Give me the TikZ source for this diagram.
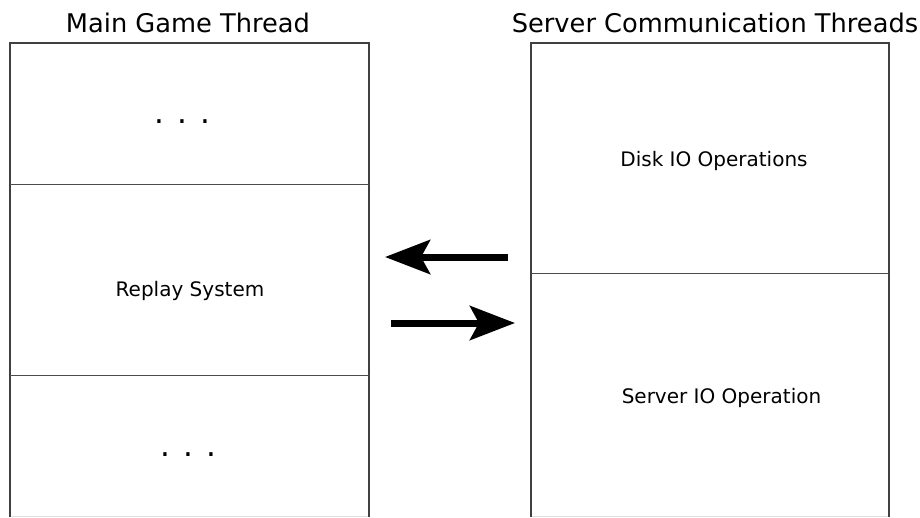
\documentclass[tikz,border=0pt]{standalone}
\usepackage{fontspec}
\setmainfont{DejaVu Sans}
\usetikzlibrary{arrows.meta}
\begin{document}
\begin{tikzpicture}[x=1pt,y=-1pt,
  frame/.style={draw=black!75,line width=1.4pt},
  divider/.style={draw=black!70,line width=0.9pt},
  title/.style={font=\fontsize{25.7}{30}\selectfont},
  label/.style={font=\fontsize{20}{24}\selectfont},
  dots/.style={font=\fontsize{31}{36}\selectfont},
  bigarrow/.style={line width=7pt,-{Stealth[length=45pt,width=34pt,inset=9pt]}}]
\useasboundingbox (0,0) rectangle (920,517);
\fill[white] (0,0) rectangle (920,517);
% frames
\draw[frame] (10,517) -- (10,43) -- (369,43) -- (369,517);
\draw[frame] (531,517) -- (531,43) -- (889,43) -- (889,517);
\draw[black!12,line width=1pt] (11,516.5) -- (368,516.5);
\draw[black!12,line width=1pt] (532,516.5) -- (888,516.5);
\draw[divider] (10,184) -- (369,184);
\draw[divider] (10,375) -- (369,375);
\draw[divider] (531,273) -- (889,273);
% titles
\node[title] (t1) at (188,23) {Main Game Thread};
\node[title] (t2) at (715,23) {Server Communication Threads};
% section labels
\node[dots] (d1) at (182,122) {. . .};
\node[label] (rs) at (190,291) {Replay System};
\node[dots] (d2) at (188,455) {. . .};
\node[label] (disk) at (714,161) {Disk IO Operations};
\node[label] (srv) at (721.5,398) {Server IO Operation};
% arrows
\coordinate (a1s) at (508,257);
\coordinate (a1e) at (385,257);
\coordinate (a2s) at (391,323);
\coordinate (a2e) at (515,323);
\draw[bigarrow] (a1s) -- (a1e);
\draw[bigarrow] (a2s) -- (a2e);
\end{tikzpicture}
\end{document}
